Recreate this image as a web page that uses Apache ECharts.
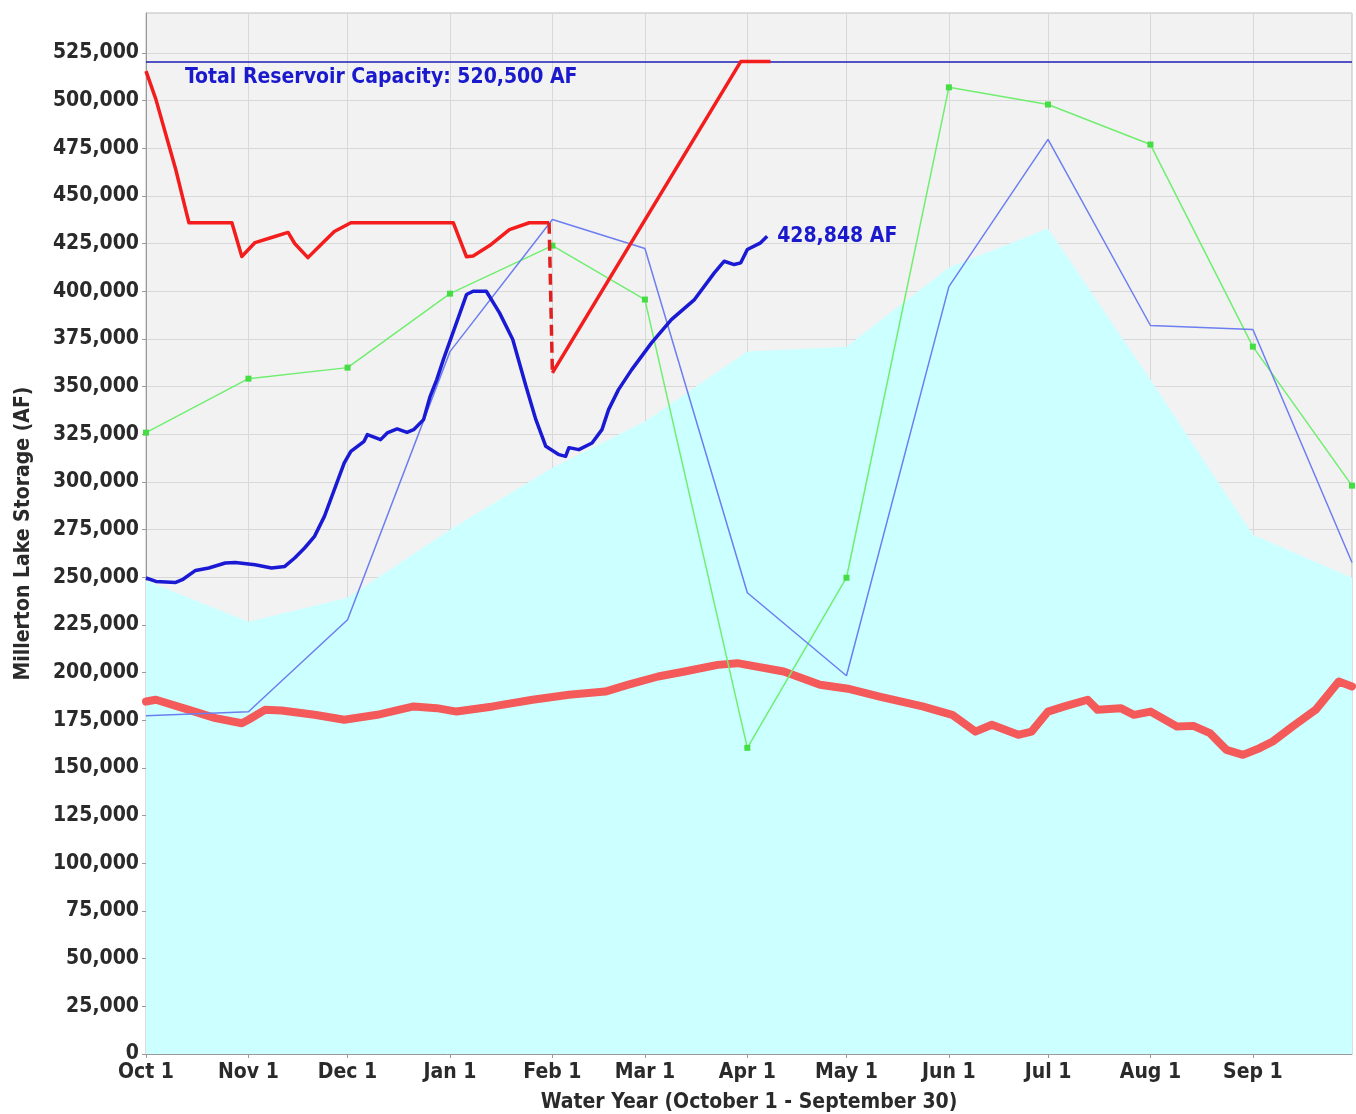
<!DOCTYPE html>
<html>
<head>
<meta charset="utf-8">
<title>Millerton Lake Storage</title>
<script src="https://cdn.jsdelivr.net/npm/echarts@6/dist/echarts.min.js"></script>
<style>
  html, body { margin: 0; padding: 0; background: #ffffff; }
  #chart { width: 1356px; height: 1114px; }
</style>
</head>
<body>
<div id="chart"></div>
<script>
// Day index counts from Oct 1 (day 0) through the end of September (day 365).
const monthTickDays = [0, 31, 61, 92, 123, 151, 182, 212, 243, 273, 304, 335];
const monthTickLabels = ['Oct 1', 'Nov 1', 'Dec 1', 'Jan 1', 'Feb 1', 'Mar 1', 'Apr 1',
                         'May 1', 'Jun 1', 'Jul 1', 'Aug 1', 'Sep 1'];

// Month-start points for the monthly traces (last point = Sep 30).
const monthlyDays = [0, 31, 61, 92, 123, 151, 182, 212, 243, 273, 304, 335, 365];
const averageStorage = [248200, 226700, 239300, 275000, 307500, 331700, 368400,
                        371000, 412500, 433000, 353700, 272400, 249800];
const wetYearStorage = [325900, 354200, 360000, 398800, 424000, 395700, 160600,
                        249800, 507000, 498000, 477000, 371000, 298100];
const priorYearStorage = [177400, 179500, 227800, 368400, 437700, 422500, 241900,
                          198400, 402500, 479700, 382100, 380000, 257800];

// Current water year storage (AF), through early April.
const currentDays = [0, 3, 9, 11, 15, 19, 24, 27, 33, 38, 42, 45, 48, 51, 54, 57, 60, 62, 66, 67,
                     71, 73, 76, 79, 81, 84, 86, 88, 90, 97, 99, 103, 107, 111, 115, 118, 121, 125, 127, 128,
                     131, 135, 138, 140, 143, 147, 153, 159, 166, 172, 175, 178, 180, 182, 186, 188];
const currentStorage = [249650, 247860, 247340, 248760, 253640, 254900, 257520, 257830, 256630, 254900,
                        255740, 260140, 265390, 271480, 281970, 295990, 310000, 316090, 321340, 324850,
                        322230, 325740, 327840, 326060, 327470, 332720, 344950, 353720, 364210, 398330,
                        400050, 400050, 388720, 374710, 350200, 332720, 318710, 314360, 313460, 318030,
                        316980, 320500, 327470, 337970, 348470, 358960, 372980, 385200, 395700, 409700,
                        415800, 414070, 414960, 421940, 425450, 428848];

// Flood-control storage limit: winter schedule, the Feb 1 step, then the spring fill line.
const limitDays = [0, 3, 6, 9, 12, 13, 26, 29, 33, 39, 43, 45, 49, 53, 57, 62, 93, 97, 99, 104, 110, 116, 122];
const limitStorage = [515500, 500700, 482300, 463900, 442900, 436000, 436000, 418300, 425600, 428800,
                      430900, 425100, 417700, 424600, 431400, 436000, 436000, 418100, 418600, 424000,
                      432400, 436000, 436000];
const stepDays = [122, 123];
const stepStorage = [436000, 357200];
const fillDays = [123, 180, 189];
const fillStorage = [357200, 520500, 520500];

// Dry-year daily storage (AF).
const dryDays = [0, 3, 13, 21, 29, 31, 36, 41, 51, 60, 70, 81, 88, 94, 105, 117, 128, 139, 146, 155,
                 163, 173, 179, 193, 204, 213, 222, 235, 244, 251, 256, 264, 268, 273, 278, 285, 288, 295, 299, 304,
                 312, 317, 322, 327, 332, 337, 341, 347, 354, 361, 365];
const dryStorage = [184900, 185800, 180500, 176200, 173500, 175300, 180500, 180200, 177900, 175300,
                    177900, 182300, 181400, 179600, 182300, 185800, 188400, 190100, 193700, 198000,
                    200600, 204100, 205000, 200600, 193700, 191400, 187500, 182300, 177900, 169100,
                    172700, 167400, 169100, 179600, 182300, 185800, 180500, 181400, 177900, 179600,
                    171800, 172100, 168300, 159500, 156900, 160400, 163900, 171800, 180500, 195400,
                    192800];

const reservoirCapacity = 520500;

const FONT = "'DejaVu Sans Condensed', 'DejaVu Sans', sans-serif";
const fmt = v => Math.round(v).toLocaleString('en-US');
const pairs = (xs, ys) => xs.map((x, i) => [x, ys[i]]);

const chart = echarts.init(document.getElementById('chart'), null, { renderer: 'canvas' });

const option = {
  animation: false,
  backgroundColor: '#ffffff',
  grid: {
    left: 146, right: 4, top: 13, bottom: 60,
    outerBoundsMode: 'none', containLabel: false,
    show: true, backgroundColor: '#f2f2f2', borderColor: '#bdbdbd', borderWidth: 1
  },
  xAxis: {
    type: 'value', min: 0, max: 365,
    name: 'Water Year (October 1 - September 30)',
    nameLocation: 'middle', nameGap: 38,
    nameTextStyle: { fontFamily: FONT, fontWeight: 'bold', fontSize: 21, color: '#2a2a2a' },
    axisLine: { show: true, lineStyle: { color: '#9a9a9a' } },
    axisTick: { show: true, length: 4, customValues: monthTickDays, lineStyle: { color: '#9a9a9a' } },
    axisLabel: {
      customValues: monthTickDays,
      formatter: v => monthTickLabels[monthTickDays.indexOf(v)],
      fontFamily: FONT, fontWeight: 'bold', fontSize: 21, color: '#2a2a2a', margin: 8
    },
    splitLine: { show: true, lineStyle: { color: '#d8d8d8', width: 1 } }
  },
  yAxis: {
    type: 'value', min: 0, max: 546000, interval: 25000,
    name: 'Millerton Lake Storage (AF)',
    nameLocation: 'middle', nameGap: 112, nameRotate: 90,
    nameTextStyle: { fontFamily: FONT, fontWeight: 'bold', fontSize: 21, color: '#2a2a2a' },
    axisLine: { show: true, lineStyle: { color: '#9a9a9a' } },
    axisTick: { show: true, length: 4, lineStyle: { color: '#9a9a9a' } },
    axisLabel: {
      formatter: v => fmt(v), showMaxLabel: false,
      fontFamily: FONT, fontWeight: 'bold', fontSize: 21, color: '#2a2a2a', margin: 7
    },
    splitLine: { show: true, lineStyle: { color: '#d8d8d8', width: 1 } }
  },
  series: [
    {
      name: 'Average Storage', type: 'line', z: 1,
      data: pairs(monthlyDays, averageStorage),
      symbol: 'none', lineStyle: { width: 0 },
      areaStyle: { color: '#ccffff', opacity: 1 }
    },
    {
      name: 'Dry Year', type: 'line', z: 2,
      data: pairs(dryDays, dryStorage),
      symbol: 'none', lineStyle: { color: '#f45a5a', width: 8, join: 'round', cap: 'round' }
    },
    {
      name: 'Wet Year', type: 'line', z: 3,
      data: pairs(monthlyDays, wetYearStorage),
      symbol: 'rect', symbolSize: 6, showSymbol: true,
      itemStyle: { color: '#44dd44' },
      lineStyle: { color: '#70ee70', width: 1.5 }
    },
    {
      name: 'Prior Year', type: 'line', z: 4,
      data: pairs(monthlyDays, priorYearStorage),
      symbol: 'none', lineStyle: { color: '#6c7ef0', width: 1.5 }
    },
    {
      name: 'Flood Control Limit', type: 'line', z: 5,
      data: pairs(limitDays, limitStorage),
      symbol: 'none', lineStyle: { color: '#f41d1d', width: 3.5, join: 'round' }
    },
    {
      name: 'Flood Control Step', type: 'line', z: 5,
      data: pairs(stepDays, stepStorage),
      symbol: 'none', lineStyle: { color: '#e02020', width: 3.5, type: [11, 6] }
    },
    {
      name: 'Flood Control Fill', type: 'line', z: 5,
      data: pairs(fillDays, fillStorage),
      symbol: 'none', lineStyle: { color: '#f41d1d', width: 3.5, join: 'round' }
    },
    {
      name: 'Current Storage', type: 'line', z: 6,
      data: pairs(currentDays, currentStorage),
      symbol: 'none', lineStyle: { color: '#1a1ad4', width: 3.5, join: 'round' },
      endLabel: {
        show: true, distance: 10,
        formatter: p => fmt(p.value[1]) + ' AF',
        fontFamily: FONT, fontWeight: 'bold', fontSize: 21, color: '#1a1acc'
      }
    },
    {
      name: 'Total Reservoir Capacity', type: 'line', z: 7,
      data: [],
      markLine: {
        silent: true, symbol: 'none', animation: false,
        lineStyle: { color: '#1c1cb4', width: 1.5, type: 'solid' },
        label: {
          show: true, position: 'insideStartBottom', distance: [39, 5],
          formatter: () => 'Total Reservoir Capacity: ' + fmt(reservoirCapacity) + ' AF',
          fontFamily: FONT, fontWeight: 'bold', fontSize: 21, color: '#1a1acc'
        },
        data: [{ yAxis: reservoirCapacity }]
      }
    }
  ]
};

chart.setOption(option);
</script>
</body>
</html>
